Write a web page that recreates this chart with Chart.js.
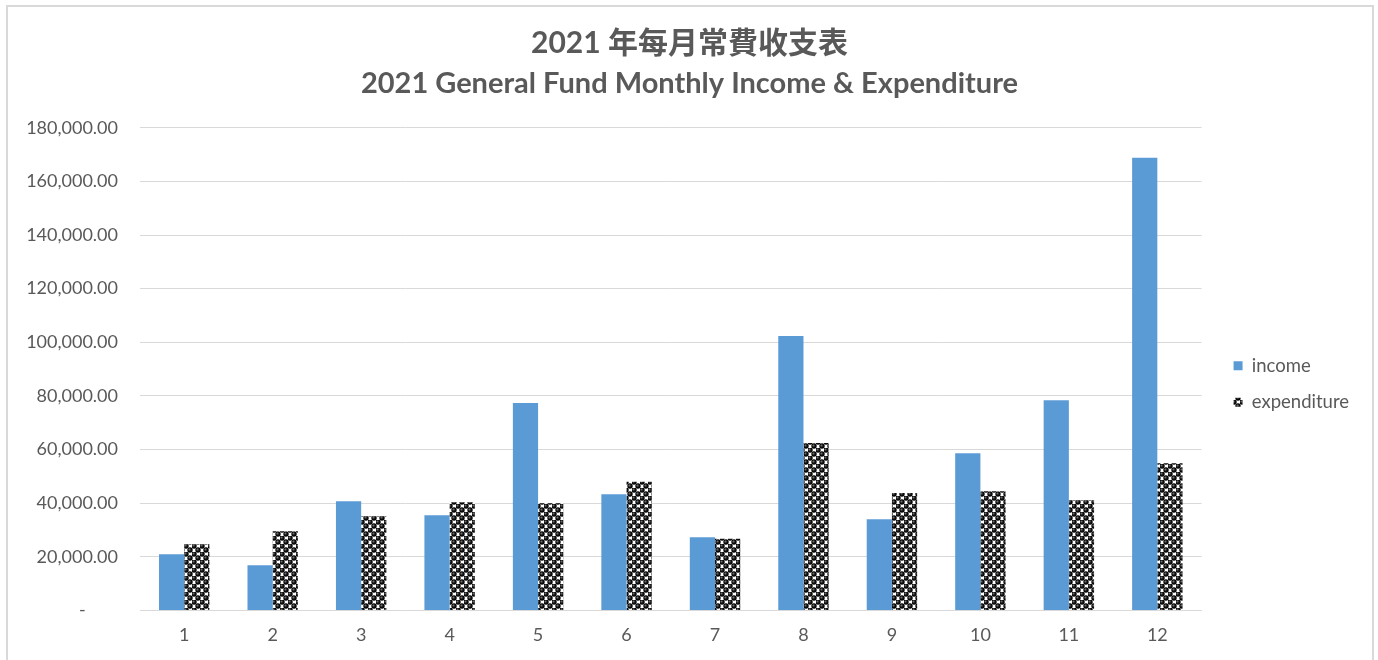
<!DOCTYPE html>
<html>
<head>
<meta charset="utf-8">
<script src="https://cdn.jsdelivr.net/npm/chart.js@4/dist/chart.umd.min.js"></script>
<style>
  body { margin: 0; background: #fff; }
  #wrap { position: relative; width: 1378px; height: 660px; }
  #frame { position: absolute; left: 6px; top: 5px; width: 1364px; height: 700px; border: 2px solid #d9d9d9; pointer-events: none; }
</style>
</head>
<body>
<div id="wrap">
  <canvas id="fundChart" width="1378" height="660"></canvas>
  <div id="frame"></div>
</div>
<script>
// months and the two series
const months = ['1', '2', '3', '4', '5', '6', '7', '8', '9', '10', '11', '12'];
const income = [20900, 16800, 40700, 35500, 77400, 43300, 27300, 102300, 34000, 58600, 78400, 168800];
const expenditure = [24700, 29500, 35100, 40300, 40000, 48000, 26700, 62400, 43800, 44400, 41100, 54900];
const yTicks = [0, 20000, 40000, 60000, 80000, 100000, 120000, 140000, 160000, 180000];

// black dotted fill used for expenditure bars
function makeDotPattern() {
  const tile = document.createElement('canvas');
  tile.width = 8;
  tile.height = 8;
  const c = tile.getContext('2d');
  c.fillStyle = '#ffffff';
  c.fillRect(0, 0, 8, 8);
  const dots = [[2, 2], [6, 6], [6, -2], [-2, 6], [10, 6], [6, 10], [10, -2], [-2, 10]];
  dots.forEach(([x, y]) => {
    const g = c.createRadialGradient(x - 0.7, y - 0.7, 0.3, x, y, 2.8);
    g.addColorStop(0, '#6a6a6a');
    g.addColorStop(0.5, '#111');
    g.addColorStop(1, '#000');
    c.fillStyle = g;
    c.beginPath();
    c.arc(x, y, 2.7, 0, Math.PI * 2);
    c.fill();
  });
  return c.createPattern(tile, 'repeat');
}

const ctx = document.getElementById('fundChart').getContext('2d');
const dotFill = makeDotPattern();
const textColor = '#595959';
const tickFont = { family: 'Lato, sans-serif', size: 18 };

new Chart(ctx, {
  type: 'bar',
  data: {
    labels: months,
    datasets: [
      { label: 'income', data: income, backgroundColor: '#5b9bd5', borderWidth: 0 },
      { label: 'expenditure', data: expenditure, backgroundColor: dotFill, borderWidth: 0 }
    ]
  },
  options: {
    responsive: false,
    animation: false,
    layout: { padding: { top: 12, left: 20, right: 19, bottom: 0 } },
    datasets: { bar: { categoryPercentage: 0.57, barPercentage: 1.0 } },
    plugins: {
      title: {
        display: true,
        text: '2021 年每月常費收支表',
        color: textColor,
        font: { family: 'Lato, "Noto Sans CJK TC", sans-serif', size: 30, weight: 'bold' },
        padding: { top: 13, bottom: 5 }
      },
      subtitle: {
        display: true,
        text: '2021 General Fund Monthly Income & Expenditure',
        color: textColor,
        font: { family: 'Lato, sans-serif', size: 29, weight: 'bold' },
        padding: { top: 0, bottom: 27 }
      },
      legend: {
        position: 'right',
        title: { display: true, text: ' ', font: { size: 10 }, padding: { top: 42, bottom: 42 } },
        labels: {
          color: textColor,
          font: { family: 'Lato, sans-serif', size: 18.5 },
          boxWidth: 9,
          boxHeight: 9,
          padding: 18
        }
      },
      tooltip: { enabled: false }
    },
    scales: {
      x: {
        grid: { display: false, drawTicks: false },
        border: { display: true, color: '#d9d9d9', width: 1 },
        ticks: { color: textColor, font: tickFont, padding: 14 }
      },
      y: {
        min: 0,
        max: 180000,
        afterBuildTicks: axis => { axis.ticks = yTicks.map(v => ({ value: v })); },
        afterFit: s => { s.width = 120; },
        grid: { color: '#d9d9d9', drawTicks: false },
        border: { display: false },
        ticks: {
          color: textColor,
          font: tickFont,
          padding: 22,
          callback: v => v === 0 ? '-       ' : v.toLocaleString('en-US', { minimumFractionDigits: 2, maximumFractionDigits: 2 })
        }
      },
      // empty axis: only keeps a gap between the plot and the legend
      gap: {
        position: 'right',
        display: true,
        grid: { display: false, drawTicks: false },
        border: { display: false },
        ticks: { display: false },
        afterFit: s => { s.width = 14; }
      }
    }
  }
});
</script>
</body>
</html>
